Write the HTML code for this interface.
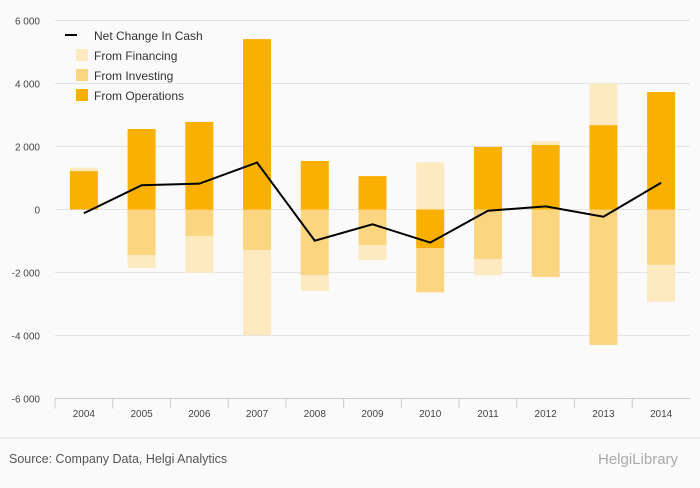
<!DOCTYPE html>
<html><head><meta charset="utf-8"><style>
body{margin:0;background:#fafafa;font-family:"Liberation Sans",sans-serif}
svg text{font-family:"Liberation Sans",sans-serif}
</style></head><body>
<svg id="c" width="700" height="483" xmlns="http://www.w3.org/2000/svg">
<rect width="700" height="483" fill="#fafafa"/>
<g id="grid"></g><g id="bars"></g><g id="line"></g><g id="axes"></g>
<g font-size="12" fill="#333">
<line x1="65" y1="35" x2="77" y2="35" stroke="#000" stroke-width="2"/><text x="94" y="40">Net Change In Cash</text>
<rect x="76" y="49" width="12" height="12" fill="#feeac1"/><text x="94" y="60">From Financing</text>
<rect x="76" y="69" width="12" height="12" fill="#fcd581"/><text x="94" y="80">From Investing</text>
<rect x="76" y="89" width="12" height="12" fill="#f9b000"/><text x="94" y="100">From Operations</text>
</g>
<line x1="0" y1="438" x2="700" y2="438" stroke="#ddd"/>
<text x="9" y="463" font-size="12.5" fill="#555">Source: Company Data, Helgi Analytics</text>
<text x="598" y="464" font-size="15" fill="#aaa">HelgiLibrary</text>
</svg>
<script>
const years=['2004','2005','2006','2007','2008','2009','2010','2011','2012','2013','2014'];
const operations=[1220,2555,2780,5410,1540,1060,-1230,1985,2050,2680,3730];
const investing=[0,-1445,-840,-1290,-2080,-1130,-1400,-1580,-2140,-4300,-1760];
const financing=[110,-410,-1165,-2700,-510,-475,1500,-510,125,1320,-1175];
const netChange=[-120,770,820,1490,-990,-470,-1050,-40,100,-230,850];
const yTicks=[6000,4000,2000,0,-2000,-4000,-6000];
const tickLabels=['6 000','4 000','2 000','0','-2 000','-4 000','-6 000'];
const NS='http://www.w3.org/2000/svg';
const x0=55,x1=690,bw=(x1-x0)/years.length;
const y=v=>209.5-v*0.0315;
const xc=i=>x0+bw*(i+0.5);
function mk(t,a,p){const e=document.createElementNS(NS,t);for(const k in a)e.setAttribute(k,a[k]);document.getElementById(p).appendChild(e);return e;}
yTicks.forEach((t,i)=>{
 const g=mk('line',{x1:x0,x2:x1,y1:y(t),y2:y(t),stroke:t===-6000?'#ccc':'#e4e4e4'},'grid');
 
 
 const l=mk('text',{x:40,y:y(t)+4,'text-anchor':'end','font-size':'10',fill:'#444'},'axes');
 l.textContent=tickLabels[i];
 
 
});
years.forEach((yr,i)=>{
 const tk=mk('line',{x1:x0+bw*i,x2:x0+bw*i,y1:y(-6000),y2:y(-6000)+10,stroke:'#ccc'},'axes');
 
 
 const l=mk('text',{x:xc(i),y:417,'text-anchor':'middle','font-size':'10',fill:'#444'},'axes');
 l.textContent=yr;
 
 
 let pos=0,neg=0;
 [[operations,'#f9b000','bar-operations'],[investing,'#fcd581','bar-investing'],[financing,'#feeac1','bar-financing']].forEach(([arr,col,nm])=>{
  const v=arr[i];if(!v)return;
  let a,b;
  if(v>0){a=pos;b=pos+v;pos=b;}else{a=neg;b=neg+v;neg=b;}
  const r=mk('rect',{x:xc(i)-14,width:28,y:Math.min(y(a),y(b)),height:Math.abs(y(a)-y(b)),fill:col},'bars');
  
  
 });
});
const pl=mk('polyline',{points:netChange.map((v,i)=>xc(i)+','+y(v)).join(' '),fill:'none',stroke:'#000','stroke-width':2},'line');


</script>
</body></html>
